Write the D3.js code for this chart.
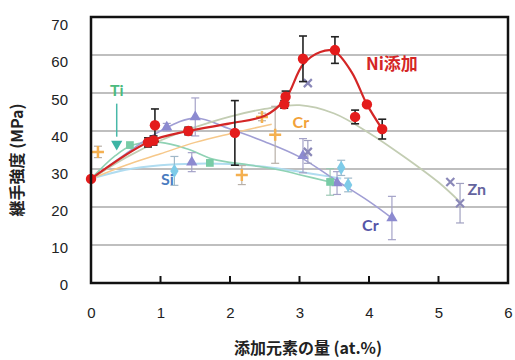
<!DOCTYPE html>
<html>
<head>
<meta charset="UTF-8">
<script src="https://d3js.org/d3.v7.min.js"></script>
<style>
  body { margin: 0; background: #fff; }
  svg text { font-family: "Liberation Sans", Arial, sans-serif; }
  .lbl { font-family: Lato, "Liberation Sans", sans-serif; font-weight: bold; }
  .jp { font-family: "Noto Sans CJK JP", sans-serif; font-weight: bold; }
</style>
</head>
<body>
<div id="chart"></div>
<script>
// Ni添加 (赤丸 + 誤差棒)
var niX   = [0, 0.82, 0.9, 0.92, 1.4, 2.07, 2.78, 2.8, 3.05, 3.51, 3.8, 3.97, 4.19];
var niY   = [27.4, 37, 37.5, 41.5, 40, 39.5, 47, 49, 59, 61.3, 43.7, 47, 40.5];
var niErr = [0, 1.2, 1.2, 4.3, 1, 8.5, 1, 1.5, 6, 3.5, 1.8, 0, 2.6];
// Ni 近似曲線
var niFitX = [0, 0.85, 1.4, 2.0, 2.5, 2.8, 3.05, 3.3, 3.5, 3.75, 3.97, 4.19];
var niFitY = [27.4, 37.3, 40, 42, 44, 48.5, 57.5, 60.8, 61, 55.5, 47, 40.5];

// Zn
var znX   = [3.12, 3.12, 5.17, 5.31];
var znY   = [52.6, 34.5, 26.6, 21];
var znErr = [0, 3, 0, 5.2];
var znFitX = [0, 0.5, 1, 1.5, 2, 2.5, 3, 3.5, 4, 4.5, 5, 5.3];
var znFitY = [27.4, 33, 37.5, 41, 43.8, 45.8, 46.8, 44.6, 39.5, 33.3, 26.5, 21.5];

// Cr (橙)
var crOX   = [0.1, 2.17, 2.46, 2.65];
var crOY   = [34.5, 28.4, 43.7, 39];
var crOErr = [1.5, 2.5, 1, 7.5];
var crOFitX = [0, 0.5, 1.0, 1.5, 2.0, 2.6];
var crOFitY = [27.4, 31, 34, 37, 39.3, 41.8];

// Cr (紫)
var crPX   = [1.09, 1.5, 1.45, 3.05, 3.54, 4.33];
var crPY   = [41, 43.7, 31.8, 33.5, 26.3, 17.1];
var crPErr = [1, 5, 2.5, 4.5, 3, 5.7];
var crPFitX = [0, 0.5, 1.0, 1.5, 2.0, 2.5, 3.0, 3.5, 4.0, 4.33];
var crPFitY = [27.4, 34, 40, 43.4, 40.5, 37.2, 33.2, 27.3, 21.5, 17.1];

// 緑 (四角)
var grX   = [0.56, 1.71, 3.44];
var grY   = [36.3, 31.6, 26.6];
var grErr = [0, 0, 3.5];
var grFitX = [0, 0.35, 0.6, 1.0, 1.4, 1.75, 2.3, 2.75, 3.0, 3.44];
var grFitY = [27.4, 33.5, 36.3, 37, 35.2, 32.6, 31, 29.6, 28.5, 26.6];

// Si
var siX   = [1.2, 3.6, 3.7];
var siY   = [29.5, 30.3, 25.8];
var siErr = [3.8, 2, 1.8];
var siFitX = [0, 0.5, 1.0, 1.5, 2.0, 2.5, 3.0, 3.6];
var siFitY = [27.4, 29.8, 31, 31.4, 31.3, 30.6, 29.3, 27.5];

// Ti
var tiX = [0.37];
var tiY = [36.6];

var xTicks = [0, 1, 2, 3, 4, 5, 6];
var yTicks = [0, 10, 20, 30, 40, 50, 60, 70];

var W = 515, H = 360;
var svg = d3.select("#chart").append("svg").attr("width", W).attr("height", H);

var x = d3.scaleLinear().domain([0, 6]).range([91, 508]);
var y = d3.scaleLinear().domain([0, 70]).range([283, 17]);
// 目盛ラベルは元図で少しずれている
var yLab = d3.scaleLinear().domain([0, 70]).range([285, 25]);

// グリッド
svg.append("g").selectAll("line").data(yTicks.slice(1, -1)).enter().append("line")
  .attr("x1", x(0)).attr("x2", x(6))
  .attr("y1", d => y(d)).attr("y2", d => y(d))
  .style("stroke", "#aaa").style("stroke-width", 1.5);

function pts(xs, ys, es) { return xs.map((v, i) => ({ x: v, y: ys[i], e: es ? es[i] : 0 })); }

var line = d3.line().x(d => x(d.x)).y(d => y(d.y)).curve(d3.curveCatmullRom.alpha(0.5));

function trend(xs, ys, color, w) {
  svg.append("path").datum(pts(xs, ys)).attr("d", line)
    .style("fill", "none").style("stroke", color).style("stroke-width", w);
}

function errBars(data, color, w) {
  var g = svg.append("g").style("stroke", color).style("stroke-width", w);
  data.filter(d => d.e > 0).forEach(function (d) {
    g.append("line").attr("x1", x(d.x)).attr("x2", x(d.x)).attr("y1", y(d.y + d.e)).attr("y2", y(d.y - d.e));
    [d.y + d.e, d.y - d.e].forEach(function (v) {
      g.append("line").attr("x1", x(d.x) - 4).attr("x2", x(d.x) + 4).attr("y1", y(v)).attr("y2", y(v));
    });
  });
}

function symbols(data, type, size, color, rot) {
  svg.append("g").selectAll("path").data(data).enter().append("path")
    .attr("d", d3.symbol().type(type).size(size))
    .attr("transform", d => "translate(" + x(d.x) + "," + y(d.y) + ")" + (rot ? " rotate(" + rot + ")" : ""))
    .style("fill", color);
}

function strokeMarks(data, kind, r, color, w) {
  svg.append("g").selectAll("path").data(data).enter().append("path")
    .attr("d", function (d) {
      var cx = x(d.x), cy = y(d.y);
      if (kind === "plus")
        return "M" + (cx - r) + "," + cy + "H" + (cx + r) + "M" + cx + "," + (cy - r) + "V" + (cy + r);
      return "M" + (cx - r) + "," + (cy - r) + "L" + (cx + r) + "," + (cy + r) +
             "M" + (cx + r) + "," + (cy - r) + "L" + (cx - r) + "," + (cy + r);
    })
    .style("fill", "none").style("stroke", color).style("stroke-width", w);
}

// 近似曲線
trend(siFitX, siFitY, "#b0dcf0", 2);
trend(grFitX, grFitY, "#8fd2b4", 1.6);
trend(crOFitX, crOFitY, "#f6c88a", 1.5);
trend(crPFitX, crPFitY, "#a09ed4", 1.6);
trend(znFitX, znFitY, "#c3cdb3", 1.8);

// 誤差棒とマーカー
var crO = pts(crOX, crOY, crOErr), crP = pts(crPX, crPY, crPErr), gr = pts(grX, grY, grErr),
    si = pts(siX, siY, siErr), zn = pts(znX, znY, znErr), ti = pts(tiX, tiY), ni = pts(niX, niY, niErr);

errBars(crO, "#b8b0a8", 1.2);
errBars(crP, "#a4a2c8", 1.2);
errBars(gr, "#9cc8b4", 1.2);
errBars(si, "#a0b8c8", 1.2);
errBars(zn, "#a0a0c0", 1.2);

strokeMarks(crO, "plus", 6, "#f4b050", 2.5);
symbols(crP, d3.symbolTriangle, 55, "#8c8ad0");
symbols(gr, d3.symbolSquare, 60, "#78cca6");
symbols(si, d3.symbolDiamond, 60, "#7ecbe8");
strokeMarks(zn, "x", 4, "#8a88b8", 2.2);
symbols(ti, d3.symbolTriangle, 55, "#3cb4a4", 180);

// Ti 矢印
svg.append("line")
  .attr("x1", x(0.37)).attr("x2", x(0.37))
  .attr("y1", y(47.2)).attr("y2", y(38.5))
  .style("stroke", "#48b8a8").style("stroke-width", 1.5);

// Ni
trend(niFitX, niFitY, "#d42626", 2.2);
errBars(ni, "#222", 1.6);
svg.append("g").selectAll("circle").data(ni).enter().append("circle")
  .attr("cx", d => x(d.x)).attr("cy", d => y(d.y)).attr("r", 5.2)
  .style("fill", "#e41c1c");

// 枠
svg.append("rect").attr("x", x(0)).attr("y", y(70))
  .attr("width", x(6) - x(0)).attr("height", y(0) - y(70))
  .style("fill", "none").style("stroke", "#111").style("stroke-width", 2.5);

// x 軸 (内向き目盛)
svg.append("g").selectAll("line").data(xTicks.slice(1, -1)).enter().append("line")
  .attr("x1", d => x(d)).attr("x2", d => x(d)).attr("y1", y(0)).attr("y2", y(0) - 7)
  .style("stroke", "#111").style("stroke-width", 2);

var xAxis = svg.append("g").attr("transform", "translate(0,304)")
  .call(d3.axisBottom(x).tickValues(xTicks).tickSize(0).tickFormat(d3.format("d")));
xAxis.select(".domain").remove();
xAxis.selectAll("text").style("font-size", "15px").style("fill", "#222");

var yAxis = svg.append("g").attr("transform", "translate(72,0)")
  .call(d3.axisLeft(yLab).tickValues(yTicks).tickSize(0).tickPadding(4));
yAxis.select(".domain").remove();
yAxis.selectAll("text").style("font-size", "15px").style("fill", "#222");

// 軸タイトル
svg.append("text").attr("class", "jp").attr("x", 308).attr("y", 354)
  .attr("text-anchor", "middle").style("font-size", "16px").style("fill", "#222")
  .text("添加元素の量 (at.%)");
svg.append("text").attr("class", "jp").attr("transform", "translate(23,160) rotate(-90)")
  .attr("text-anchor", "middle").style("font-size", "16px").style("fill", "#222")
  .text("継手強度 (MPa)");

// ラベル
var labels = [
  { t: "Ni添加", x: 4.33, y: 57.9, c: "#d42626", s: 17, jp: true },
  { t: "Ti", x: 0.37, y: 51, c: "#4cba7e", s: 16 },
  { t: "Cr", x: 3.02, y: 42.5, c: "#f2a23a", s: 16 },
  { t: "Si", x: 1.1, y: 27.5, c: "#4a7cc0", s: 16 },
  { t: "Cr", x: 4.02, y: 15.3, c: "#5656a8", s: 16 },
  { t: "Zn", x: 5.55, y: 25, c: "#64649e", s: 16 }
];
svg.append("g").selectAll("text").data(labels).enter().append("text")
  .attr("class", d => d.jp ? "jp" : "lbl")
  .attr("x", d => x(d.x)).attr("y", d => y(d.y))
  .attr("text-anchor", "middle").attr("dominant-baseline", "central")
  .style("font-size", d => d.s + "px").style("fill", d => d.c)
  .text(d => d.t);
</script>
</body>
</html>
